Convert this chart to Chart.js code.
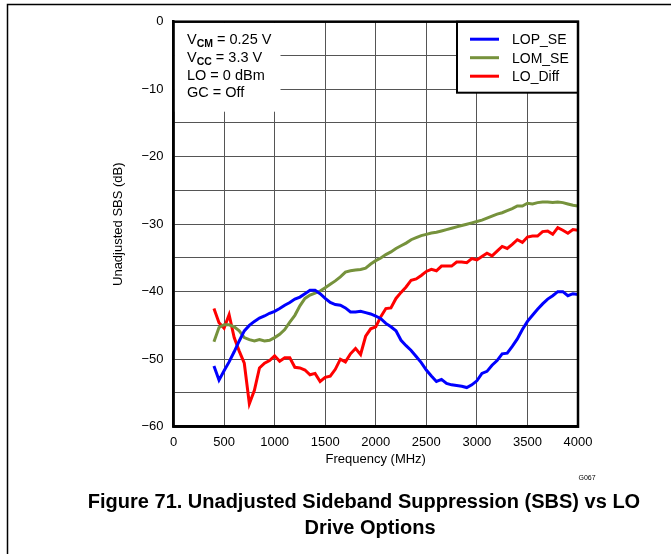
<!DOCTYPE html>
<html>
<head>
<meta charset="utf-8">
<script src="https://cdn.jsdelivr.net/npm/chart.js@4.4.1/dist/chart.umd.min.js"></script>
<style>
  html, body { margin: 0; padding: 0; background: #fff; }
  #wrap { width: 671px; height: 554px; }
</style>
</head>
<body>
<div id="wrap"><canvas id="sbsChart" width="671" height="554"></canvas></div>
<script>
// frequency points (MHz)
const freq = [
  400, 450, 500, 550, 600, 650, 700, 750, 800, 850, 900, 950,
  1000, 1050, 1100, 1150, 1200, 1250, 1300, 1350, 1400, 1450, 1500, 1550,
  1600, 1650, 1700, 1750, 1800, 1850, 1900, 1950, 2000, 2050, 2100, 2150,
  2200, 2250, 2300, 2350, 2400, 2450, 2500, 2550, 2600, 2650, 2700, 2750,
  2800, 2850, 2900, 2950, 3000, 3050, 3100, 3150, 3200, 3250, 3300, 3350,
  3400, 3450, 3500, 3550, 3600, 3650, 3700, 3750, 3800, 3850, 3900, 3950, 4000
];

const lopSE = [
  -51.0, -53.1, -51.7, -50.4, -48.9, -47.3, -45.8, -45.0, -44.4, -43.9, -43.6, -43.2,
  -42.9, -42.5, -42.0, -41.6, -41.1, -40.8, -40.3, -39.8, -39.8, -40.3, -41.0, -41.6,
  -41.9, -42.0, -42.4, -43.0, -43.0, -42.9, -43.1, -43.3, -43.6, -44.0, -44.7, -45.2,
  -45.8, -47.2, -48.0, -48.7, -49.6, -50.5, -51.6, -52.5, -53.3, -53.0, -53.6, -53.8,
  -53.9, -54.0, -54.2, -53.8, -53.2, -52.1, -51.8, -50.9, -50.2, -49.2, -49.1, -48.1,
  -47.0, -45.6, -44.4, -43.5, -42.6, -41.8, -41.1, -40.6, -40.0, -40.0, -40.6, -40.3, -40.4
];

const lomSE = [
  -47.4, -45.3, -44.9, -44.9, -45.2, -45.8, -46.8, -47.1, -47.3, -47.1, -47.3, -47.2,
  -46.8, -46.3, -45.6, -44.5, -43.5, -42.1, -41.0, -40.5, -40.2, -39.9, -39.4, -38.9,
  -38.4, -37.8, -37.1, -36.9, -36.8, -36.7, -36.5, -35.9, -35.4, -35.0, -34.5, -34.1,
  -33.6, -33.2, -32.8, -32.3, -32.0, -31.7, -31.5, -31.3, -31.2, -31.0, -30.8, -30.6,
  -30.4, -30.2, -30.0, -29.8, -29.6, -29.4, -29.1, -28.8, -28.5, -28.3, -28.0, -27.7,
  -27.3, -27.3, -26.9, -27.0, -26.8, -26.7, -26.7, -26.8, -26.7, -26.8, -27.0, -27.2, -27.3
];

const loDiff = [
  -42.5, -44.6, -45.4, -43.4, -46.8, -48.8, -50.6, -56.6, -54.6, -51.3, -50.6, -50.2,
  -49.5, -50.3, -49.8, -49.8, -51.2, -51.3, -51.6, -52.3, -52.1, -53.3, -52.7, -52.5,
  -51.5, -50.0, -50.4, -49.2, -48.4, -49.3, -46.6, -45.5, -45.2, -43.7, -42.5, -42.4,
  -41.0, -40.1, -39.3, -38.3, -38.1, -37.6, -37.0, -36.7, -36.9, -36.2, -36.2, -36.2,
  -35.6, -35.6, -35.7, -35.1, -35.3, -34.8, -34.3, -34.7, -34.0, -33.3, -33.6, -33.0,
  -32.3, -32.7, -31.9, -31.75, -31.75, -31.1, -31.0, -31.5, -30.5, -30.9, -31.35, -30.8, -30.9
];

const seriesNames = ["LOP_SE", "LOM_SE", "LO_Diff"];
const seriesColors = ["#0000ff", "#76923c", "#ff0000"];

const conditions = [
  ["V", "CM", " = 0.25 V"],
  ["V", "CC", " = 3.3 V"],
  ["LO = 0 dBm", "", ""],
  ["GC = Off", "", ""]
];

const captionLines = [
  "Figure 71. Unadjusted Sideband Suppression (SBS) vs LO",
  "Drive Options"
];

const FONT = "'Liberation Sans', Arial, sans-serif";

function toPoints(values) {
  return freq.map((f, i) => ({ x: f, y: values[i] }));
}

// white box with test conditions, top-left of the plot
const conditionsBox = {
  id: "conditionsBox",
  beforeDatasetsDraw(chart) {
    const ctx = chart.ctx;
    const a = chart.chartArea;
    ctx.save();
    ctx.fillStyle = "#fff";
    ctx.fillRect(a.left + 1, a.top + 1, 106, 89);
    ctx.fillStyle = "#000";
    ctx.textBaseline = "alphabetic";
    let y = a.top + 22.5;
    conditions.forEach(row => {
      let x = a.left + 13.5;
      ctx.font = "14.5px " + FONT;
      ctx.fillText(row[0], x, y);
      x += ctx.measureText(row[0]).width;
      if (row[1]) {
        ctx.font = "bold 10.5px " + FONT;
        ctx.fillText(row[1], x, y + 3);
        x += ctx.measureText(row[1]).width;
        ctx.font = "14.5px " + FONT;
        ctx.fillText(row[2], x, y);
      }
      y += 17.7;
    });
    ctx.restore();
  }
};

// boxed legend top-right, plot frame, page frame and caption
const decorations = {
  id: "decorations",
  afterDraw(chart) {
    const ctx = chart.ctx;
    const a = chart.chartArea;
    ctx.save();

    // legend
    const lx = a.right - 121, ly = a.top;
    ctx.fillStyle = "#fff";
    ctx.fillRect(lx, ly, 121, 71);
    ctx.strokeStyle = "#000";
    ctx.lineWidth = 2;
    ctx.strokeRect(lx, ly, 121, 71);
    chart.data.datasets.forEach((ds, i) => {
      const y = ly + 17.5 + i * 18.5;
      ctx.strokeStyle = ds.borderColor;
      ctx.lineWidth = 3;
      ctx.beginPath();
      ctx.moveTo(lx + 13, y);
      ctx.lineTo(lx + 42, y);
      ctx.stroke();
      ctx.fillStyle = "#000";
      ctx.font = "14px " + FONT;
      ctx.textBaseline = "middle";
      ctx.fillText(ds.label, lx + 55, y + 1);
    });

    // plot frame
    ctx.strokeStyle = "#000";
    ctx.lineWidth = 2.5;
    ctx.strokeRect(a.left, a.top, a.right - a.left, a.bottom - a.top);

    // page frame
    ctx.lineWidth = 1.5;
    ctx.beginPath();
    ctx.moveTo(671, 4.5);
    ctx.lineTo(7.5, 4.5);
    ctx.lineTo(7.5, 554);
    ctx.stroke();

    // figure id
    ctx.fillStyle = "#000";
    ctx.font = "7px " + FONT;
    ctx.textAlign = "center";
    ctx.textBaseline = "middle";
    ctx.fillText("G067", 587, 478);

    // caption
    ctx.font = "bold 20px " + FONT;
    ctx.textBaseline = "alphabetic";
    ctx.fillText(captionLines[0], 364, 508);
    ctx.fillText(captionLines[1], 370, 534);
    ctx.restore();
  }
};

const minus = v => String(v).replace("-", "\u2212");

new Chart(document.getElementById("sbsChart"), {
  type: "line",
  data: {
    datasets: [lopSE, lomSE, loDiff].map((vals, i) => ({
      label: seriesNames[i],
      data: toPoints(vals),
      borderColor: seriesColors[i],
      backgroundColor: seriesColors[i],
      borderWidth: 3,
      pointRadius: 0,
      tension: 0,
      fill: false
    }))
  },
  options: {
    responsive: false,
    animation: false,
    layout: { padding: { left: 106, right: 93, top: 21.7, bottom: 86.3 } },
    plugins: {
      legend: { display: false },
      tooltip: { enabled: false }
    },
    scales: {
      x: {
        type: "linear",
        min: 0,
        max: 4000,
        afterFit(scale) { scale.height = 41; },
        ticks: {
          stepSize: 500,
          padding: 8,
          color: "#000",
          font: { family: FONT, size: 13 },
          callback: v => String(v)
        },
        grid: { color: "#555", lineWidth: 1, drawTicks: false },
        border: { color: "#000", width: 2.5 },
        title: {
          display: true,
          text: "Frequency (MHz)",
          color: "#000",
          font: { family: FONT, size: 13 },
          padding: { top: 0, bottom: 0 }
        }
      },
      y: {
        min: -60,
        max: 0,
        afterFit(scale) { scale.width = 67.5; },
        ticks: {
          stepSize: 5,
          padding: 10,
          color: "#000",
          font: { family: FONT, size: 13 },
          callback: v => (v % 10 === 0 ? minus(v) : "")
        },
        grid: { color: "#555", lineWidth: 1, drawTicks: false },
        border: { color: "#000", width: 2.5 },
        title: {
          display: true,
          text: "Unadjusted SBS (dB)",
          color: "#000",
          font: { family: FONT, size: 13 },
          padding: { top: 5, bottom: 0 }
        }
      }
    }
  },
  plugins: [conditionsBox, decorations]
});
</script>
</body>
</html>
